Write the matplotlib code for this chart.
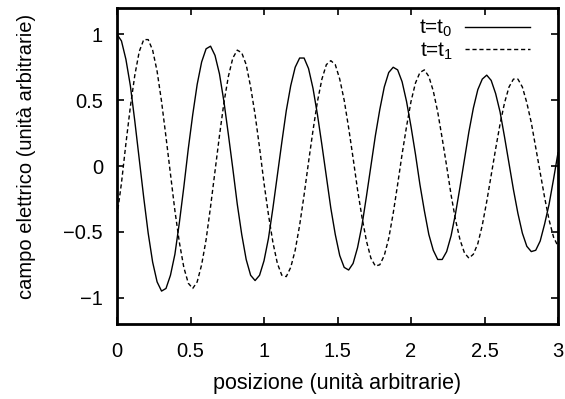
import numpy as np
import matplotlib
matplotlib.use("Agg")
import matplotlib.pyplot as plt

# positions sampled (100 samples over [0, 3])
x_start, x_end, n_samples = 0.0, 3.0, 100

# field at t = t0
e_t0 = [1.00, 0.95, 0.81, 0.61, 0.34, 0.05, -0.24, -0.51, -0.73, -0.88,
        -0.95, -0.93, -0.83, -0.67, -0.43, -0.16, 0.13, 0.39, 0.62, 0.79,
        0.89, 0.91, 0.84, 0.70, 0.49, 0.24, -0.02, -0.29, -0.52, -0.71,
        -0.83, -0.87, -0.83, -0.72, -0.55, -0.32, -0.07, 0.18, 0.42, 0.61,
        0.75, 0.82, 0.82, 0.74, 0.59, 0.39, 0.16, -0.08, -0.32, -0.52,
        -0.68, -0.77, -0.79, -0.74, -0.62, -0.45, -0.23, 0.00, 0.23, 0.43,
        0.60, 0.71, 0.75, 0.73, 0.64, 0.49, 0.30, 0.09, -0.14, -0.34,
        -0.52, -0.64, -0.71, -0.71, -0.65, -0.53, -0.36, -0.16, 0.05, 0.26,
        0.44, 0.58, 0.66, 0.69, 0.65, 0.55, 0.41, 0.22, 0.02, -0.18,
        -0.36, -0.51, -0.61, -0.65, -0.64, -0.57, -0.44, -0.29, -0.10, 0.10]

# field at t = t1
e_t1 = [-0.38, -0.13, 0.17, 0.45, 0.69, 0.87, 0.96, 0.96, 0.88, 0.72,
        0.49, 0.22, -0.06, -0.34, -0.58, -0.77, -0.89, -0.93, -0.88, -0.75,
        -0.56, -0.31, -0.04, 0.23, 0.48, 0.68, 0.82, 0.88, 0.86, 0.77,
        0.60, 0.39, 0.14, -0.13, -0.37, -0.58, -0.74, -0.83, -0.84, -0.77,
        -0.64, -0.45, -0.22, 0.03, 0.27, 0.49, 0.66, 0.77, 0.80, 0.77,
        0.66, 0.50, 0.29, 0.06, -0.18, -0.39, -0.57, -0.70, -0.76, -0.75,
        -0.68, -0.55, -0.36, -0.14, 0.09, 0.30, 0.49, 0.63, 0.71, 0.73,
        0.68, 0.57, 0.41, 0.21, 0.00, -0.22, -0.41, -0.56, -0.66, -0.70,
        -0.67, -0.59, -0.45, -0.27, -0.07, 0.13, 0.32, 0.48, 0.60, 0.66,
        0.66, 0.60, 0.48, 0.33, 0.14, -0.05, -0.24, -0.41, -0.54, -0.61]

labels = ["t=t$_0$", "t=t$_1$"]
x_ticks = [0, 0.5, 1, 1.5, 2, 2.5, 3]
y_ticks = [-1, -0.5, 0, 0.5, 1]
x_label = "posizione (unità arbitrarie)"
y_label = "campo elettrico (unità arbitrarie)"

plt.rcParams['font.family'] = ['Liberation Sans', 'DejaVu Sans']
plt.rcParams['mathtext.fontset'] = 'custom'
plt.rcParams['mathtext.rm'] = 'Liberation Sans'
plt.rcParams['mathtext.it'] = 'Liberation Sans'
plt.rcParams['mathtext.default'] = 'rm'
plt.rcParams['axes.unicode_minus'] = True

pos = np.linspace(x_start, x_end, n_samples)

W, H = 565, 399
fig = plt.figure(figsize=(W / 100, H / 100), dpi=100)
L, R, T, B = 117, 558, 8, 324
ax = fig.add_axes([L / W, (H - B) / H, (R - L) / W, (B - T) / H])

ax.plot(pos, e_t0, color='black', lw=1.0, label=labels[0])
l1, = ax.plot(pos, e_t1, color='black', lw=1.0, label=labels[1])
l1.set_dashes([3, 2])

ax.set_xlim(0, 3)
ax.set_ylim(-1.2, 1.2)
ax.set_xticks(x_ticks)
ax.set_xticklabels([f"{t:g}" for t in x_ticks])
ax.set_yticks(y_ticks)
ax.set_yticklabels([f"{t:g}".replace('-', '\u2212') for t in y_ticks])
ax.tick_params(axis='both', direction='in', length=5, width=1.2, top=True,
               right=True, labelsize=14.5, colors='black')
ax.tick_params(axis='x', pad=13)
ax.tick_params(axis='y', pad=10)
for s in ax.spines.values():
    s.set_linewidth(2)

ax.set_xlabel(x_label, fontsize=15.5)
ax.set_ylabel(y_label, fontsize=14.5)
ax.xaxis.set_label_coords(0.5, (B - 373) / (B - T))
ax.xaxis.label.set_va('top')
ax.yaxis.set_label_coords((36 - L) / (R - L), (B - 156) / (B - T))

leg = ax.legend(loc='upper right', bbox_to_anchor=((530 - L) / (R - L), (B - 18) / (B - T)),
                frameon=False, markerfirst=False, fontsize=15, handlelength=3.1,
                handletextpad=0.6, labelspacing=0.05, borderaxespad=0, borderpad=0)

fig.savefig("out.png", dpi=100)
